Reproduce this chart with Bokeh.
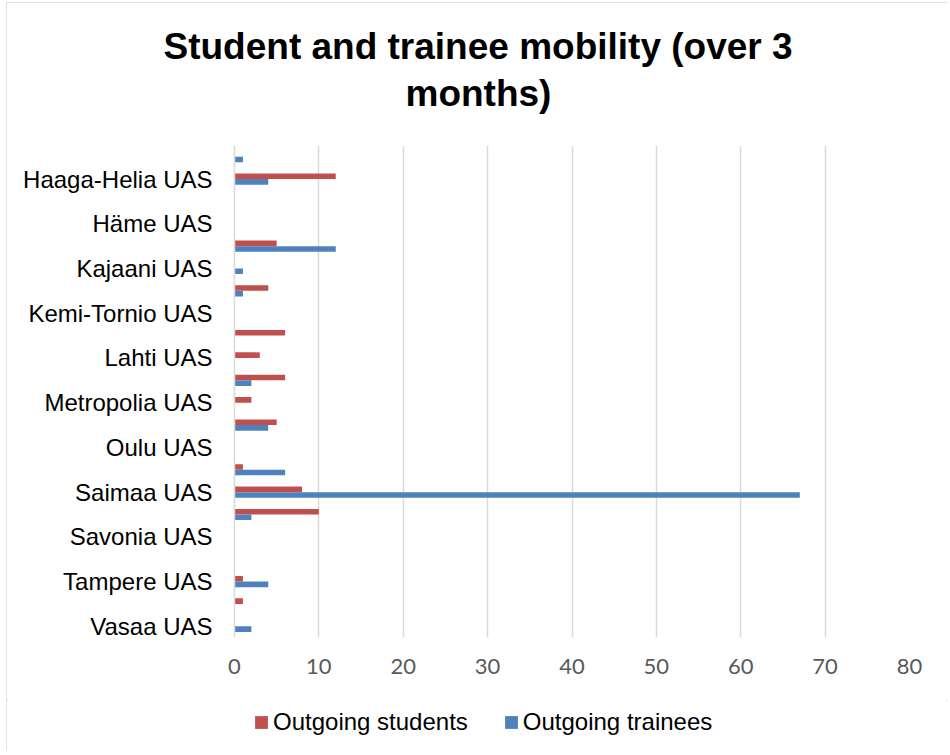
from bokeh.plotting import figure
from bokeh.layouts import column
from bokeh.models import ColumnDataSource, FixedTicker, Range1d, Title, Legend, LegendItem
from bokeh.transform import dodge
from bokeh.embed import file_html
from bokeh.resources import INLINE

# Category rows, top to bottom (only every second row carries a label in the original)
categories = ["", "Haaga-Helia UAS", "", "Häme UAS", "", "Kajaani UAS", "",
              "Kemi-Tornio UAS", "", "Lahti UAS", "", "Metropolia UAS", "",
              "Oulu UAS", "", "Saimaa UAS", "", "Savonia UAS", "",
              "Tampere UAS", "", "Vasaa UAS"]
students = [0, 12, 0, 0, 5, 0, 4, 0, 6, 3, 6, 2, 5, 0, 1, 8, 10, 0, 0, 1, 1, 0]
trainees = [1, 4, 0, 0, 12, 1, 1, 0, 0, 0, 2, 0, 4, 0, 6, 67, 2, 0, 0, 4, 0, 2]
x_ticks = [0, 10, 20, 30, 40, 50, 60, 70, 80]
series_names = ["Outgoing students", "Outgoing trainees"]
colors = ["#C0504D", "#4F81BD"]
title_lines = ["Student and trainee mobility (over 3", "months)"]

pos = list(range(len(categories)))
src = ColumnDataSource(dict(pos=pos, students=students, trainees=trainees))

W = 942
p = figure(frame_width=675, frame_height=492,
           output_backend="svg", toolbar_location=None,
           x_range=Range1d(x_ticks[0], x_ticks[-1]),
           y_range=Range1d(len(categories) - 0.5, -0.5),
           min_border_left=228, min_border_right=39,
           min_border_top=143, min_border_bottom=63)
p.title = None
# second line first: panels added later sit farther from the plot area
p.add_layout(Title(text=title_lines[1], align="left", text_font="Liberation Sans",
                   text_font_style="bold", text_font_size="37px", text_color="black",
                   offset=171, standoff=64), "above")
p.add_layout(Title(text=title_lines[0], align="left", text_font="Liberation Sans",
                   text_font_style="bold", text_font_size="37px", text_color="black",
                   offset=-71, standoff=-56), "above")

r1 = p.hbar(y=dodge("pos", -0.125), left=0, right="students", height=0.25,
            fill_color=colors[0], line_color=None, source=src)
r2 = p.hbar(y=dodge("pos", 0.125), left=0, right="trainees", height=0.25,
            fill_color=colors[1], line_color=None, source=src)

# axes
p.yaxis.ticker = FixedTicker(ticks=[i for i, c in enumerate(categories) if c])
p.yaxis.major_label_overrides = {i: c for i, c in enumerate(categories) if c}
p.yaxis.axis_line_color = "#D9D9D9"
p.yaxis.axis_line_width = 1.5
p.yaxis.major_tick_line_color = None
p.yaxis.minor_tick_line_color = None
p.yaxis.major_label_standoff = 16
p.yaxis.major_label_text_font = "Liberation Sans"
p.yaxis.major_label_text_font_size = "24px"
p.yaxis.major_label_text_color = "black"

p.xaxis.ticker = FixedTicker(ticks=x_ticks)
p.xaxis.axis_line_color = None
p.xaxis.major_tick_line_color = None
p.xaxis.minor_tick_line_color = None
p.xaxis.major_label_standoff = 15
p.xaxis.major_label_text_font = "Lato"
p.xaxis.major_label_text_font_size = "22px"
p.xaxis.major_label_text_color = "#595959"

p.xgrid.ticker = FixedTicker(ticks=x_ticks)
p.xgrid.grid_line_color = "#D9D9D9"
p.xgrid.grid_line_width = 1.5
p.ygrid.grid_line_color = None
p.outline_line_color = None
p.background_fill_color = "white"
p.border_fill_color = "white"

# legend strip below the chart (its plot area lines up with the chart's)
leg = figure(width=W, height=53, output_backend="svg", toolbar_location=None,
             x_range=Range1d(0, 1), y_range=Range1d(0, 1),
             x_axis_location=None, y_axis_location=None,
             min_border_left=0, min_border_right=0, min_border_top=0, min_border_bottom=0)
leg.grid.visible = False
leg.outline_line_color = None
leg.background_fill_color = "white"
leg.border_fill_color = "white"
# zero-length key bars: they only supply the legend swatches
k1 = leg.hbar(y="pos", left=0, right=0, height=0.25, fill_color=colors[0],
              line_color=None, source=src)
k2 = leg.hbar(y="pos", left=0, right=0, height=0.25, fill_color=colors[1],
              line_color=None, source=src)
legend = Legend(items=[LegendItem(label=series_names[0], renderers=[k1]),
                       LegendItem(label=series_names[1], renderers=[k2])],
                orientation="horizontal", location=(19, 17),
                glyph_width=16, glyph_height=16, label_standoff=4, spacing=35,
                padding=0, margin=0, border_line_color=None,
                background_fill_alpha=0,
                label_text_font="Liberation Sans", label_text_font_size="24px",
                label_text_color="black")
leg.add_layout(legend, "center")

layout = column(p, leg, spacing=0,
                styles={"outline": "2px solid #D9D9D9", "outline-offset": "-2px",
                        "background-color": "white", "margin-left": "6px",
                        "margin-top": "2px", "clip-path": "inset(0 0 3px 0)"})

open("out.html", "w").write(file_html(layout, INLINE))
